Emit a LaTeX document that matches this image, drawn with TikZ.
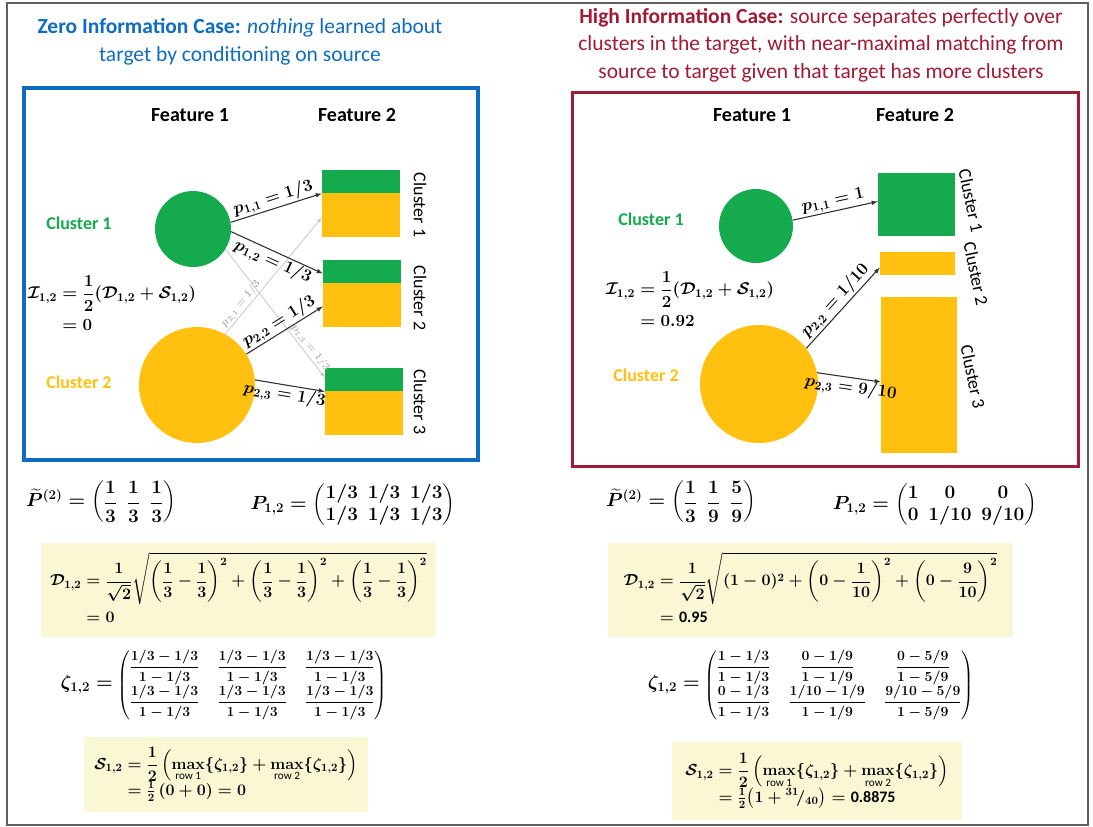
\RequirePackage{fix-cm}
\documentclass[tikz,border=0pt]{standalone}
\usepackage{amsmath}
\usepackage[no-math]{fontspec}
\setmainfont{Carlito}
\usetikzlibrary{positioning, arrows.meta}
\definecolor{infoblue}{RGB}{16,108,192}
\definecolor{infored}{RGB}{160,27,52}
\definecolor{clgreen}{RGB}{22,170,78}
\definecolor{clyellow}{RGB}{255,192,15}
\definecolor{paleyellow}{RGB}{250,247,212}
\definecolor{framegray}{RGB}{95,95,95}
\tikzset{>=latex}
\tikzset{
    headline/.style={align=center, font=\fontsize{21.5}{27.5}\selectfont},
    feature/.style={font=\bfseries\fontsize{20}{22}\selectfont},
    clusterlbl/.style={font=\bfseries\fontsize{18}{20}\selectfont},
    sidelbl/.style={rotate=-90, font=\fontsize{18}{20}\selectfont},
    source/.style={circle, inner sep=0pt},
    target/.style={rectangle, inner sep=0pt, fill=clyellow},
    twotone/.style={target, minimum width=78pt, minimum height=67pt,
        path picture={\fill[clgreen] (path picture bounding box.north west)
            rectangle ([yshift=-23pt]path picture bounding box.north east);}},
    prob/.style={->, line width=1.1pt, draw=black!80},
    faint/.style={->, line width=0.8pt, draw=black!22},
    plbl/.style={sloped, inner sep=1pt, font=\fontsize{17}{18}\selectfont\boldmath},
    eq/.style={font=\fontsize{16}{19}\selectfont\boldmath, inner sep=2pt},
    bigeq/.style={eq, font=\fontsize{19}{22}\selectfont\boldmath},
    ieq/.style={eq, font=\fontsize{17}{21}\selectfont\boldmath},
    eqbox/.style={eq, fill=paleyellow, inner sep=0pt}
}
\newcommand{\zetasize}{\fontsize{14}{17}\selectfont}

\begin{document}
\begin{tikzpicture}[x=1pt, y=-1pt]
    \useasboundingbox (0,0) rectangle (1093,827);
    \draw[framegray, line width=1.2pt] (7,3) rectangle (1088,825);

    % titles
    \node[headline, text=infoblue] (title1) at (240,42)
        {\textbf{Zero Information Case:} \textit{nothing} learned about\\
         target by conditioning on source};
    \node[headline, text=infored] (title2) at (821,45)
        {\textbf{High Information Case:} source separates perfectly over\\
         clusters in the target, with near-maximal matching from\\
         source to target given that target has more clusters};

    \draw[infoblue, line width=3.5pt] (24,88) rectangle (478,460);
    \draw[infored, line width=3pt] (572,92) rectangle (1078,466);

    % ---- zero information case ----
    \node[feature] (fa1) at (190,115) {Feature 1};
    \node[feature] (fa2) at (357,115) {Feature 2};
    \node[clusterlbl, text=clgreen] (ca1) at (79,223) {Cluster 1};
    \node[clusterlbl, text=clyellow] (ca2) at (79,382) {Cluster 2};

    \node[source, fill=clgreen, minimum size=76pt] (g1) at (193,229) {};
    \node[source, fill=clyellow, minimum size=116pt] (y1) at (197,385) {};

    \node[twotone] (t1) at (361,203.5) {};
    \node[twotone] (t2) at (362,293.5) {};
    \node[twotone] (t3) at (364,401.5) {};
    \node[sidelbl] (s1) at (420,205) {Cluster 1};
    \node[sidelbl] (s2) at (420,298) {Cluster 2};
    \node[sidelbl] (s3) at (420,402) {Cluster 3};

    \draw[faint] (y1.61) -- node[plbl, above, pos=.22, text=black!30,
        font=\fontsize{11}{12}\selectfont\boldmath] {$p_{2,1}=1/3$} ([yshift=-14pt]t1.west);
    \draw[faint] (g1.-32) -- node[plbl, above, pos=.8, text=black!30,
        font=\fontsize{11}{12}\selectfont\boldmath] {$p_{1,3}=1/3$} ([yshift=24pt]t3.west);
    \draw[prob] (g1.10) -- node[plbl, above] {$p_{1,1}=1/3$} ([yshift=10pt]t1.west);
    \draw[prob] (g1.-4) -- node[plbl, below] {$p_{1,2}=1/3$} ([yshift=20pt]t2.west);
    \draw[prob] (y1.32) -- node[plbl, above] {$p_{2,2}=1/3$} ([yshift=-13pt]t2.west);
    \draw[prob] (y1.5) -- node[plbl, below, pos=.45] {$p_{2,3}=1/3$} ([yshift=10pt]t3.west);

    \node[ieq] (ia) at (112,306) {$\begin{aligned}\mathcal{I}_{1,2} &= \frac{1}{2}(\mathcal{D}_{1,2}+\mathcal{S}_{1,2})\\ &= 0\end{aligned}$};

    % ---- high information case ----
    \node[feature] (fb1) at (752,115) {Feature 1};
    \node[feature] (fb2) at (915,115) {Feature 2};
    \node[clusterlbl, text=clgreen] (cb1) at (651,219) {Cluster 1};
    \node[clusterlbl, text=clyellow] (cb2) at (646,375) {Cluster 2};

    \node[source, fill=clgreen, minimum size=74pt] (g2) at (756,226) {};
    \node[source, fill=clyellow, minimum size=118pt] (y2) at (759,384) {};

    \node[target, fill=clgreen, minimum width=77pt, minimum height=63pt] (r1) at (916.5,204.5) {};
    \node[target, minimum width=75pt, minimum height=23pt] (r2) at (917.5,263.5) {};
    \node[target, minimum width=76pt, minimum height=156pt] (r3) at (919,375) {};
    \node[sidelbl, rotate=12] (q1) at (971,201) {Cluster 1};
    \node[sidelbl, rotate=12] (q2) at (976,274) {Cluster 2};
    \node[sidelbl, rotate=12] (q3) at (973,377) {Cluster 3};

    \draw[prob] (g2.9) -- node[plbl, above] {$p_{1,1}=1$} ([yshift=3pt]r1.west);
    \draw[prob] (y2.37) -- node[plbl, above] {$p_{2,2}=1/10$} ([yshift=-4pt]r2.west);
    \draw[prob] (y2.11) -- node[plbl, below, pos=.55] {$p_{2,3}=9/10$} ([yshift=-7pt]r3.west);

    \node[ieq] (ib) at (690,302) {$\begin{aligned}\mathcal{I}_{1,2} &= \frac{1}{2}(\mathcal{D}_{1,2}+\mathcal{S}_{1,2})\\ &= 0.92\end{aligned}$};

    % ---- formulas, zero case ----
    \node[bigeq] (pa) at (101,502) {$\widetilde{P}^{(2)} = \begin{pmatrix}\dfrac{1}{3} & \dfrac{1}{3} & \dfrac{1}{3}\end{pmatrix}$};
    \node[bigeq] (ma) at (353,505) {$P_{1,2} = \begin{pmatrix}1/3 & 1/3 & 1/3\\ 1/3 & 1/3 & 1/3\end{pmatrix}$};
    \node[eqbox, minimum width=395pt, minimum height=94pt] (da) at (238.5,590)
        {$\begin{aligned}\mathcal{D}_{1,2} &= \frac{1}{\sqrt{2}}\sqrt{\left(\frac{1}{3}-\frac{1}{3}\right)^2+\left(\frac{1}{3}-\frac{1}{3}\right)^2+\left(\frac{1}{3}-\frac{1}{3}\right)^2}\\ &= 0\end{aligned}$};
    \node[bigeq] (za) at (224,685) {$\zeta_{1,2} =$ \zetasize$\setlength{\arraycolsep}{9pt}\begin{pmatrix}
        \dfrac{1/3-1/3}{1-1/3} & \dfrac{1/3-1/3}{1-1/3} & \dfrac{1/3-1/3}{1-1/3}\\[1pt]
        \dfrac{1/3-1/3}{1-1/3} & \dfrac{1/3-1/3}{1-1/3} & \dfrac{1/3-1/3}{1-1/3}\end{pmatrix}$};
    \node[eqbox, minimum width=284pt, minimum height=75pt] (sa) at (226,774.5)
        {$\begin{aligned}\mathcal{S}_{1,2} &= \frac{1}{2}\left(\max_{\text{row 1}}\{\zeta_{1,2}\}+\max_{\text{row 2}}\{\zeta_{1,2}\}\right)\\[-4pt] &=\tfrac{1}{2}\,(0+0)=0\end{aligned}$};

    % ---- formulas, high case ----
    \node[bigeq] (pb) at (681,502) {$\widetilde{P}^{(2)} = \begin{pmatrix}\dfrac{1}{3} & \dfrac{1}{9} & \dfrac{5}{9}\end{pmatrix}$};
    \node[bigeq] (mb) at (935,505) {$P_{1,2} = \begin{pmatrix}1 & 0 & 0\\ 0 & 1/10 & 9/10\end{pmatrix}$};
    \node[eqbox, minimum width=405pt, minimum height=94pt] (db) at (810.5,590)
        {$\begin{aligned}\mathcal{D}_{1,2} &= \frac{1}{\sqrt{2}}\sqrt{(1-0)^2+\left(0-\frac{1}{10}\right)^2+\left(0-\frac{9}{10}\right)^2}\\ &=\textbf{0.95}\end{aligned}$};
    \node[bigeq] (zb) at (811,685) {$\zeta_{1,2} =$ \zetasize$\setlength{\arraycolsep}{9pt}\begin{pmatrix}
        \dfrac{1-1/3}{1-1/3} & \dfrac{0-1/9}{1-1/9} & \dfrac{0-5/9}{1-5/9}\\[1pt]
        \dfrac{0-1/3}{1-1/3} & \dfrac{1/10-1/9}{1-1/9} & \dfrac{9/10-5/9}{1-5/9}\end{pmatrix}$};
    \node[eqbox, minimum width=290pt, minimum height=78pt] (sb) at (817,781)
        {$\begin{aligned}\mathcal{S}_{1,2} &= \frac{1}{2}\left(\max_{\text{row 1}}\{\zeta_{1,2}\}+\max_{\text{row 2}}\{\zeta_{1,2}\}\right)\\[-4pt] &=\tfrac{1}{2}\bigl(1+{}^{31}\!/_{40}\bigr)=\textbf{0.8875}\end{aligned}$};
\end{tikzpicture}
\end{document}
